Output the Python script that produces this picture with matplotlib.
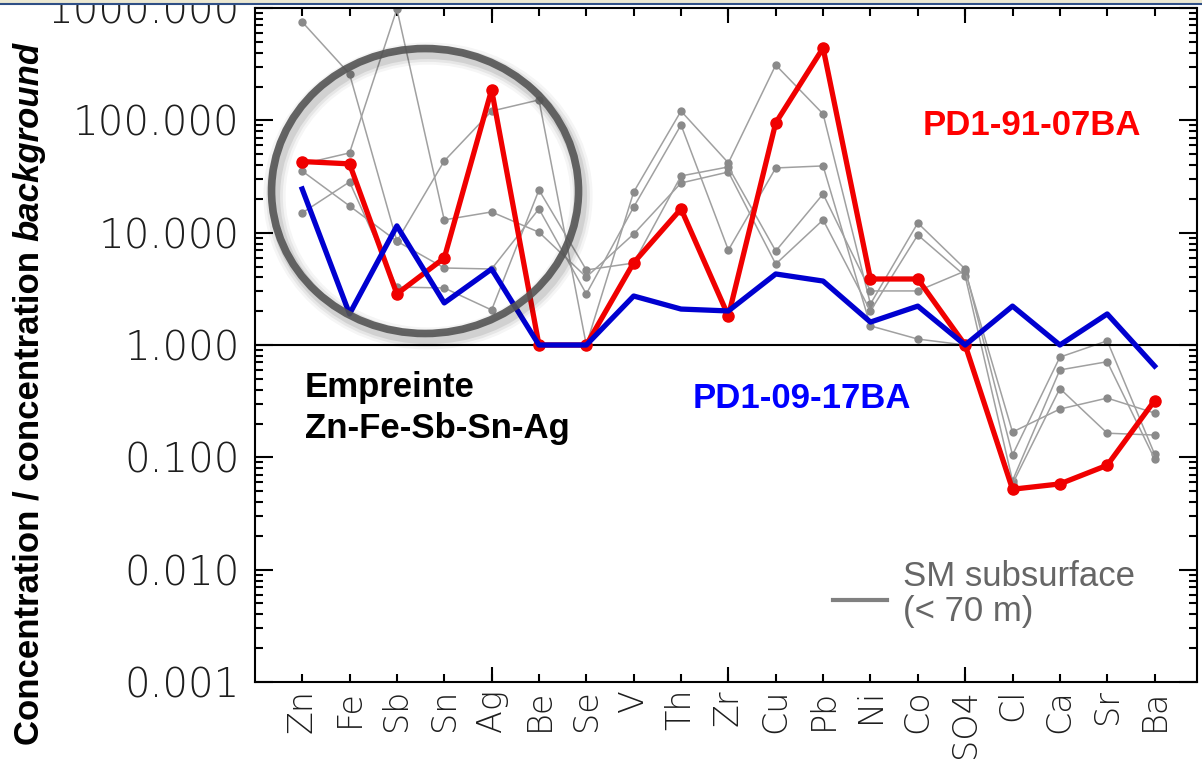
import numpy as np
import matplotlib.pyplot as plt
from matplotlib.patches import Ellipse, Rectangle
from matplotlib.lines import Line2D
from matplotlib.ticker import FixedLocator, LogLocator, NullFormatter, FuncFormatter

elements = ['Zn', 'Fe', 'Sb', 'Sn', 'Ag', 'Be', 'Se', 'V', 'Th', 'Zr',
            'Cu', 'Pb', 'Ni', 'Co', 'SO4', 'Cl', 'Ca', 'Sr', 'Ba']

# ratios to background concentration
pd1_91_07ba = [43, 41, 2.85, 5.95, 187, 1.0, 1.0, 5.4, 16.3, 1.81,
               95, 441, 3.87, 3.87, 1.0, 0.052, 0.058, 0.085, 0.32]
pd1_09_17ba = [24.5, 1.89, 11.5, 2.37, 4.75, 1.0, 1.0, 2.73, 2.09, 2.01,
               4.29, 3.71, 1.60, 2.22, 1.0, 2.22, 1.0, 1.89, 0.65]

# SM subsurface samples (< 70 m)
sm_a = [752, 259, 8.4, 43.5, 121, 152, 1.0, 23.0, 121, 41.8,
        311, 114, 2.32, 12.2, 4.75, 0.105, 0.78, 1.09, 0.107]
sm_b = [40.9, 51.3, 980, 13.0, 15.3, 10.1, 4.03, 9.73, 27.7, 34.7,
        5.26, 13.0, 2.01, 9.54, 4.12, 0.062, 0.60, 0.71, 0.097]
sm_c = [35.4, 17.3, 8.4, 4.85, 4.75, 16.3, 2.85, 16.9, 91, 7.0,
        37.7, 39.3, 1.48, 1.13, 1.0, 0.058, 0.41, 0.164, 0.158]
sm_d = [15.0, 28.3, 3.28, 3.22, 2.05, 24.0, 4.66, 5.37, 32.0, 38.5,
        6.87, 22.1, 3.03, 3.03, 4.56, 0.168, 0.269, 0.337, 0.248]
sm_series = [sm_a, sm_b, sm_c, sm_d]

x = np.arange(1, len(elements) + 1)

fig = plt.figure(figsize=(12.02, 7.65), dpi=100)
fig.patch.set_facecolor('white')

# slide frame at the top edge
fig.add_artist(Rectangle((0, 1 - 4 / 765), 1, 4 / 765, transform=fig.transFigure,
                         facecolor='#ece8d2', edgecolor='none'))
fig.add_artist(Line2D([0, 1], [1 - 4 / 765, 1 - 4 / 765], transform=fig.transFigure,
                      color='#2f4f86', lw=1.5))

ax = fig.add_axes([0.212, 0.1085, 0.784, 0.881])

for vals in sm_series:
    ax.plot(x, vals, color='#a0a0a0', lw=1.1, marker='o', ms=5,
            mfc='#8a8a8a', mec='#8a8a8a', zorder=2)

ax.axhline(1.0, color='black', lw=1.5, zorder=3)

ax.plot(x, pd1_91_07ba, color='#f00000', lw=3.8, marker='o', ms=8,
        mfc='#f00000', mec='#f00000', zorder=4)
ax.plot(x, pd1_09_17ba, color='#0000d0', lw=3.8, zorder=5)

ax.set_yscale('log')
ax.set_ylim(0.001, 1000)
ax.set_xlim(0, 19.9)

# y axis: decades, inward ticks on both sides
ax.yaxis.set_major_locator(FixedLocator([1e-3, 1e-2, 1e-1, 1, 10, 100, 1000]))
ax.yaxis.set_major_formatter(FuncFormatter(lambda v, p: f'{v:.3f}'))
ax.yaxis.set_minor_locator(LogLocator(base=10, subs=np.arange(2, 10), numticks=20))
ax.yaxis.set_minor_formatter(NullFormatter())

# x axis: one labelled tick per element, longer ticks every fifth
ax.xaxis.remove_overlapping_locs = False
ax.set_xticks([5, 10, 15])
ax.set_xticklabels([])
ax.set_xticks(x, elements, minor=True)

ax.tick_params(axis='both', which='both', direction='in', top=True, right=True,
               width=1.5, colors='black')
ax.tick_params(axis='y', which='major', length=13, pad=11,
               labelsize=29, labelcolor='#1e1e1e')
ax.tick_params(axis='y', which='minor', length=6)
ax.tick_params(axis='x', which='major', length=11)
ax.tick_params(axis='x', which='minor', length=6, pad=5,
               labelsize=24, labelcolor='#1e1e1e', labelrotation=90)
for lab in ax.get_yticklabels() + ax.get_xticklabels(minor=True):
    lab.set_family('DejaVu Sans')
    lab.set_fontweight('light')

for sp in ax.spines.values():
    sp.set_linewidth(1.5)

# annotations
ax.text(0.825, 0.826, 'PD1-91-07BA', transform=ax.transAxes, color='#ff0000',
        fontsize=25, fontweight='bold', family='Liberation Sans',
        ha='center', va='center')
ax.text(0.580, 0.421, 'PD1-09-17BA', transform=ax.transAxes, color='#0000ff',
        fontsize=25, fontweight='bold', family='Liberation Sans',
        ha='center', va='center')
ax.text(0.053, 0.407, 'Empreinte\nZn-Fe-Sb-Sn-Ag', transform=ax.transAxes,
        color='black', fontsize=25, fontweight='bold', family='Liberation Sans',
        ha='left', va='center', linespacing=1.3)

# legend for the grey samples
ax.plot([0.6136, 0.671], [0.1217, 0.1217], transform=ax.transAxes,
        color='#808080', lw=3, clip_on=False)
ax.text(0.688, 0.1306, 'SM subsurface\n(< 70 m)', transform=ax.transAxes,
        color='#666666', fontsize=25, family='Liberation Sans',
        ha='left', va='center', linespacing=1.05)

# ring around the Zn-Ag signature, with a soft shadow
cx, cy, w, h = 0.3536, 0.7503, 0.2554, 0.3725
for lw, a in [(16, 0.04), (12, 0.06), (8, 0.09)]:
    fig.add_artist(Ellipse((cx + 3 / 1202, cy - 5 / 765), w, h,
                           transform=fig.transFigure, fill=False,
                           edgecolor='black', lw=lw, alpha=a, zorder=6))
fig.add_artist(Ellipse((cx, cy), w, h, transform=fig.transFigure, fill=False,
                       edgecolor='#555555', lw=5.5, alpha=0.9, zorder=7))

# y label: bold text with the last word in italics
t1 = fig.text(0.024, 1 - 745 / 765, 'Concentration / concentration',
              rotation=90, fontsize=25, fontweight='bold',
              family='Liberation Sans', ha='center', va='bottom')
fig.canvas.draw()
bb = t1.get_window_extent().transformed(fig.transFigure.inverted())
fig.text(0.024, bb.y1 + 10 / 765, 'background', rotation=90, fontsize=25,
         fontweight='bold', fontstyle='italic', family='Liberation Sans',
         ha='center', va='bottom')

fig.savefig('out.png', dpi=100)
